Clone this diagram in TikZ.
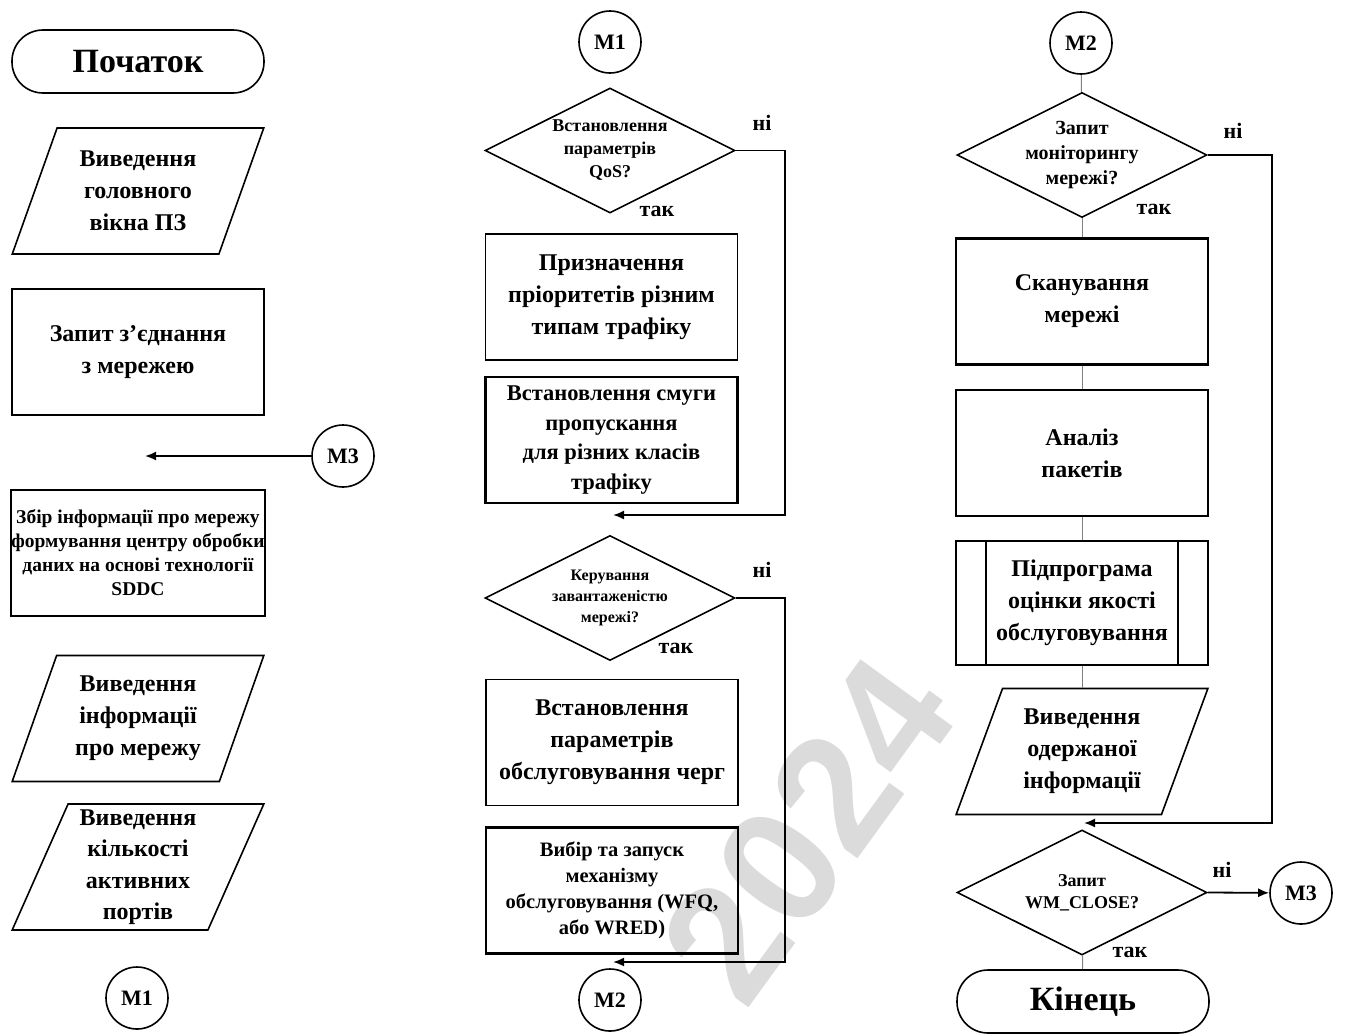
\documentclass[tikz,border=0pt]{standalone}
\usepackage{fontspec}
\setmainfont{Liberation Serif}
\newfontfamily\wmfont{Liberation Sans}
\usetikzlibrary{shapes.geometric,arrows.meta}
\begin{document}
\begin{tikzpicture}[x=1pt,y=-1pt,
  base/.style={draw, line width=1.6pt, inner sep=0pt, align=center},
  box/.style={base, rectangle, minimum width=252pt, minimum height=126pt},
  thickbox/.style={box, line width=2.8pt},
  term/.style={base, rectangle, rounded corners=31pt, minimum width=252pt, minimum height=63pt, font=\fontsize{34}{40}\selectfont\bfseries},
  io/.style={base, trapezium, trapezium left angle=68, trapezium right angle=112, trapezium stretches=true, minimum width=252pt, minimum height=126pt},
  dec/.style={base, diamond, minimum width=250pt, minimum height=125pt, aspect=2},
  conn/.style={base, circle, minimum size=62pt, font=\fontsize{22}{26}\selectfont\bfseries},
  lbl/.style={font=\fontsize{22}{26}\selectfont\bfseries},
  loopline/.style={line width=1.8pt, -{Latex[length=11pt,width=9pt]}},
  thin/.style={draw=gray, line width=1pt},
]
\useasboundingbox (0,0) rectangle (1346,1034);
% watermark
\node[text=black!14, rotate=54, font=\wmfont\bfseries\fontsize{166}{166}\selectfont] (wm) at (808,830) {2024};

% ---- column 1
\node[term] (start) at (138,61.5) {Початок};
\node[io, font=\fontsize{24}{32}\selectfont\bfseries] (out1) at (138,191) {Виведення\\головного\\вікна ПЗ};
\node[box, font=\fontsize{24}{32}\selectfont\bfseries] (req) at (138,352) {Запит з’єднання\\з мережею};
\node[conn] (m3a) at (343,456) {M3};
\coordinate (m3end) at (145,456);
\node[box, font=\fontsize{19.5}{24}\selectfont\bfseries] (collect) at (138,553) {Збір інформації про мережу\\формування центру обробки\\даних на основі технології\\SDDC};
\node[io, font=\fontsize{24}{32}\selectfont\bfseries] (out2) at (138,718.5) {Виведення\\інформації\\про мережу};
\node[io, font=\fontsize{24}{31.5}\selectfont\bfseries] (out3) at (138,867) {Виведення\\кількості\\активних\\портів};
\node[conn] (m1a) at (137,998) {M1};
\draw[loopline] (m3a) -- (m3end);

% ---- column 2
\node[conn] (m1b) at (610,42) {M1};
\node[dec, font=\fontsize{18}{23}\selectfont\bfseries] (d1) at (610,150.5) {Встановлення\\параметрів\\QoS?};
\node[lbl] (n1) at (762,123) {ні};
\node[lbl] (y1) at (657,211) {так};
\node[box, font=\fontsize{24}{32}\selectfont\bfseries] (prio) at (611.5,297) {Призначення\\пріоритетів різним\\типам трафіку};
\node[thickbox, font=\fontsize{22.5}{29.5}\selectfont\bfseries] (band) at (611.5,440) {Встановлення смуги\\пропускання\\для різних класів\\трафіку};
\coordinate (j1) at (613,515);
\draw[loopline] (d1.east) -- (785,150.5) |- (j1);
\node[dec, font=\fontsize{16}{21}\selectfont\bfseries] (d2) at (610,598) {Керування\\завантаженістю\\мережі?};
\node[lbl] (n2) at (762,570) {ні};
\node[lbl] (y2) at (676,648) {так};
\node[box, font=\fontsize{24}{32}\selectfont\bfseries] (queue) at (612,742.5) {Встановлення\\параметрів\\обслуговування черг};
\node[thickbox, font=\fontsize{20.5}{26}\selectfont\bfseries] (mech) at (612,890.5) {Вибір та запуск\\механізму\\обслуговування (WFQ,\\або WRED)};
\coordinate (j2) at (613,962);
\draw[loopline] (d2.east) -- (785,598) |- (j2);
\node[conn] (m2a) at (610,1000) {M2};

% ---- column 3
\node[conn] (m2b) at (1081,43) {M2};
\node[dec, font=\fontsize{20}{25}\selectfont\bfseries] (d3) at (1082,155) {Запит\\моніторингу\\мережі?};
\node[lbl] (n3) at (1233,131) {ні};
\node[lbl] (y3) at (1154,209) {так};
\node[thickbox, font=\fontsize{24}{32}\selectfont\bfseries] (scan) at (1082,301.5) {Сканування\\мережі};
\node[thickbox, font=\fontsize{24}{32}\selectfont\bfseries] (anal) at (1082,453) {Аналіз\\пакетів};
\node[box, minimum height=124pt, font=\fontsize{24}{32}\selectfont\bfseries] (sub) at (1082,603) {Підпрограма\\оцінки якості\\обслуговування};
\draw[line width=1.6pt] ([xshift=31pt]sub.north west) -- ([xshift=31pt]sub.south west);
\draw[line width=1.6pt] ([xshift=-31pt]sub.north east) -- ([xshift=-31pt]sub.south east);
\node[io, font=\fontsize{24}{32}\selectfont\bfseries] (out4) at (1082,751.5) {Виведення\\одержаної\\інформації};
\node[dec, font=\fontsize{18}{22}\selectfont\bfseries] (d4) at (1082,892.5) {Запит\\WM\_CLOSE?};
\node[lbl] (n4) at (1222,870) {ні};
\node[lbl] (y4) at (1130,952) {так};
\node[conn] (m3b) at (1301,893) {M3};
\node[term] (end) at (1083,1001.5) {Кінець};

\draw[thin] (m2b) -- (d3);
\draw[thin] (d3) -- (scan);
\draw[thin] (scan) -- (anal);
\draw[thin] (anal) -- (sub);
\draw[thin] (sub.south) -- (sub.south |- out4.north);
\draw[thin] (d4) -- (end);
\coordinate (j3) at (1084,823);
\draw[loopline] (d3.east) -- (1272,155) |- (j3);
\draw[loopline] (d4.east) -- (m3b);
\end{tikzpicture}
\end{document}
